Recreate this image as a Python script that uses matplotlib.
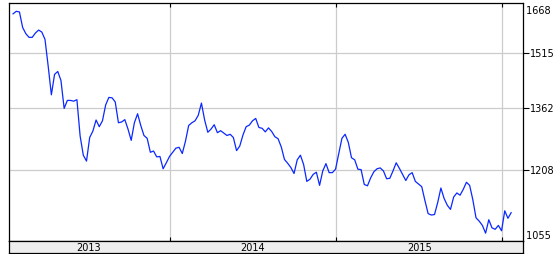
import matplotlib
matplotlib.use("Agg")
import matplotlib.pyplot as plt
import matplotlib.dates as mdates
import matplotlib.transforms as mtransforms
import pandas as pd

# weekly closes
close = [
    1632, 1640, 1638, 1590, 1571, 1560, 1560, 1573, 1582, 1576,
    1554, 1476, 1397, 1453, 1461, 1436, 1361, 1382, 1382, 1380,
    1384, 1291, 1244, 1230, 1287, 1303, 1331, 1314, 1329, 1370,
    1390, 1389, 1378, 1324, 1326, 1332, 1308, 1280, 1324, 1347,
    1317, 1292, 1285, 1251, 1254, 1240, 1241, 1212, 1226, 1241,
    1251, 1261, 1263, 1248, 1278, 1317, 1324, 1329, 1343, 1375,
    1331, 1300, 1308, 1319, 1299, 1304, 1298, 1292, 1295, 1287,
    1255, 1266, 1293, 1314, 1318, 1329, 1335, 1312, 1310, 1301,
    1311, 1302, 1289, 1284, 1264, 1234, 1225, 1215, 1201, 1233,
    1244, 1222, 1183, 1188, 1199, 1204, 1174, 1207, 1224, 1203,
    1203, 1211, 1247, 1285, 1295, 1275, 1238, 1233, 1211, 1210,
    1176, 1173, 1191, 1205, 1212, 1214, 1207, 1189, 1190, 1207,
    1226, 1213, 1199, 1185, 1198, 1203, 1183, 1177, 1171, 1140,
    1112, 1109, 1110, 1136, 1168, 1145, 1130, 1121, 1148, 1157,
    1152, 1165, 1181, 1174, 1142, 1103, 1096, 1087, 1071, 1099,
    1082, 1079, 1087, 1076, 1118, 1102, 1114,
]
dates = pd.date_range("2013-01-23", periods=len(close), freq="7D")

y_ticks = [1208, 1362, 1515]
y_min, y_max = 1055, 1668
years = [2013, 2014, 2015]

x_left = pd.Timestamp("2013-01-13")
x_right = pd.Timestamp("2016-02-15")

W, H = 558, 254
fig = plt.figure(figsize=(W / 100, H / 100), dpi=100)
fig.patch.set_facecolor("white")

# main plot box
ax = fig.add_axes([8.5 / W, (H - 241) / H, 514.5 / W, 238.5 / H])
ax.plot(dates, close, color="#0a28ff", lw=0.9)
ax.set_yscale("log")
ax.set_ylim(y_min, y_max)
ax.set_xlim(x_left, x_right)

ax.yaxis.tick_right()
ax.set_yticks(y_ticks)
ax.set_yticklabels([str(v) for v in y_ticks])
ax.yaxis.set_minor_locator(matplotlib.ticker.NullLocator())
ax.tick_params(axis="y", direction="out", length=4, width=0.8, pad=1,
               labelsize=7, colors="black")

ax.xaxis.set_major_locator(mdates.YearLocator())
ax.tick_params(axis="x", direction="in", length=3, width=0.8,
               top=True, bottom=True, labelbottom=False)

ax.grid(True, color="#cccccc", lw=0.9)
ax.set_axisbelow(True)
for s in ax.spines.values():
    s.set_linewidth(0.9)
    s.set_color("black")

# end labels sit inside the range
down = mtransforms.offset_copy(ax.transAxes, fig=fig, x=0, y=-2.5, units="points")
ax.text(1.0, 1.0, " " + str(y_max), transform=down, ha="left",
        va="top", fontsize=7)
ax.text(1.0, 0.0, " " + str(y_min), transform=ax.transAxes, ha="left",
        va="bottom", fontsize=7)

# year band under the plot
band = fig.add_axes([8.5 / W, (H - 253) / H, 514.5 / W, 12 / H])
band.set_facecolor("#eeeeee")
band.set_xlim(mdates.date2num(x_left), mdates.date2num(x_right))
band.set_ylim(0, 1)
band.set_xticks([])
band.set_yticks([])
for s in band.spines.values():
    s.set_linewidth(0.9)
    s.set_color("black")
for yr in years:
    a = max(pd.Timestamp(f"{yr}-01-01"), x_left)
    b = min(pd.Timestamp(f"{yr + 1}-01-01"), x_right)
    mid = mdates.date2num(a) + (mdates.date2num(b) - mdates.date2num(a)) / 2
    band.text(mid, 0.45, str(yr), ha="center", va="center", fontsize=7)

fig.savefig("out.png", dpi=100)
